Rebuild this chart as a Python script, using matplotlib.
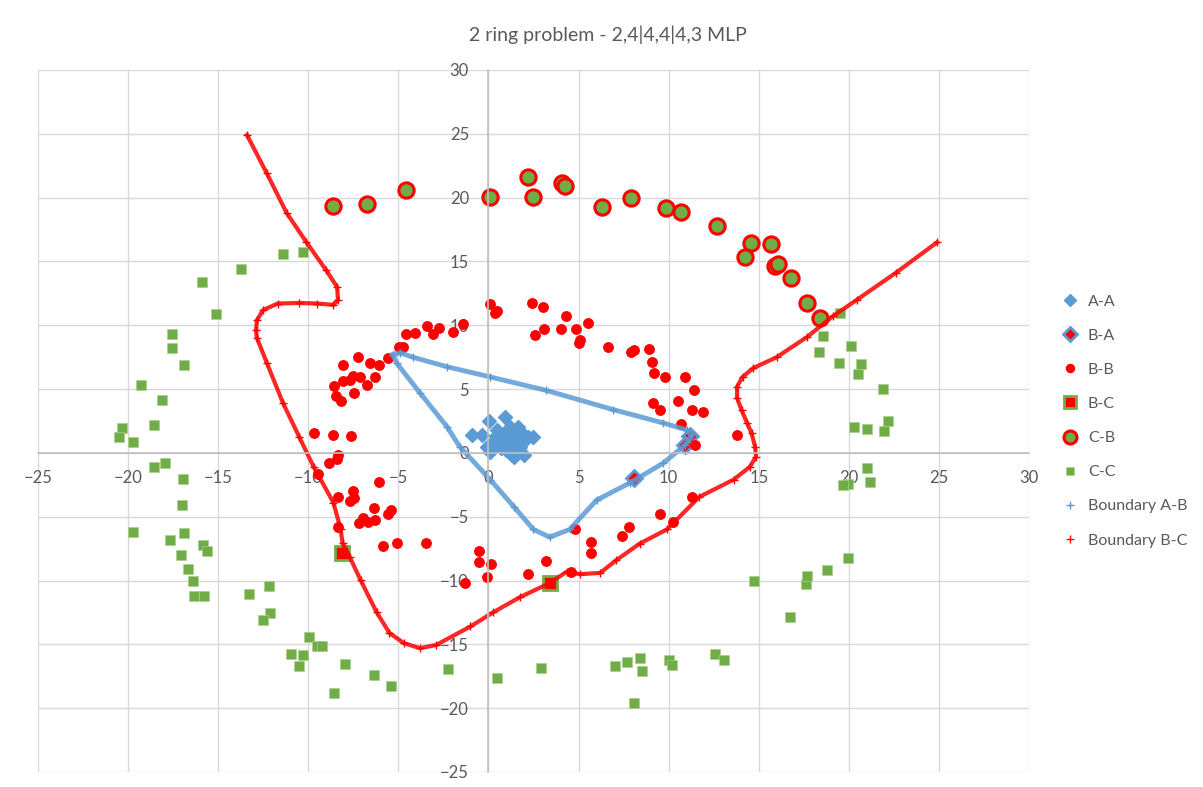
import matplotlib
matplotlib.use("Agg")
import matplotlib.pyplot as plt

# ---- data ----
aa_x = [-0.9, -0.35, 0.03, 0.9, -0.1, 0.1, 1.4, 2.0, 2.2, 1.65, 1.2, 0.5, 0.65, 1.4, 1.75,
        1.0, 0.25, 2.45, 1.85, 0.1, 1.3, 0.8, 1.1, 1.6, 0.4, 2.0, 0.7, 1.2, 1.5, 0.9]
aa_y = [1.4, 1.4, 2.5, 2.8, 0.5, 0.1, -0.3, -0.15, 1.25, 2.05, 2.0, 1.8, 1.0, 0.8, 0.5,
        0.2, 0.8, 1.25, 1.55, 0.6, -0.15, 1.4, 1.2, 1.1, 1.3, 0.9, 0.4, 0.5, 1.6, 0.9]

ba_x = [8.1, 11.2, 10.9]
ba_y = [-1.95, 1.35, 0.65]

bb_x = [0.1, 0.35, 0.5, 2.4, 3.0, 4.3, 2.6, 3.1, 4.0, 4.85, 5.0, 5.1, 5.5, -1.4, -1.95,
        -2.75, -3.1, -3.4, -4.1, -4.6, -4.75, -4.95, -5.6, -7.25, -8.1, -6.6, -6.1, -6.3,
        -6.75, -7.15, -7.5, -7.7, -8.05, -8.55, -8.45, -8.2, -7.45, -9.7, -8.6, -7.65,
        -8.35, -8.4, -8.85, -9.45, -6.1, -8.35, -7.5, -7.45, -7.7, -6.35, -5.4, -5.55,
        -6.95, -7.2, -6.7, -6.3, -8.35, -5.85, -5.1, -3.45, -0.5, -0.5, 0.15, -0.1, -1.3,
        3.2, 2.2, 4.6, 4.8, 5.7, 5.7, 7.4, 7.8, 9.5, 10.25, 11.3, 6.65, 7.9, 8.1, 8.9, 9.1,
        9.2, 9.8, 10.9, 11.4, 9.15, 9.5, 10.5, 11.3, 11.9, 10.7, 11.45, 13.8]
bb_y = [11.7, 11.0, 11.1, 11.75, 11.45, 10.75, 9.25, 9.7, 9.7, 9.7, 8.6, 8.85, 10.2, 10.1, 9.5,
        9.8, 9.3, 9.95, 9.4, 9.3, 8.3, 8.3, 7.45, 7.5, 6.9, 7.05, 6.9, 5.95,
        5.3, 5.95, 6.0, 5.7, 5.6, 5.25, 4.45, 4.1, 4.7, 1.55, 1.4, 1.35,
        -0.15, -0.5, -0.8, -1.65, -2.25, -3.45, -3.0, -3.55, -3.8, -4.3, -4.45, -4.8,
        -5.1, -5.5, -5.4, -5.25, -5.8, -7.3, -7.05, -7.05, -7.7, -8.55, -8.7, -9.7, -10.2,
        -8.45, -9.5, -9.3, -6.0, -7.0, -7.85, -6.5, -5.8, -4.8, -5.4, -3.45, 8.3, 7.9, 8.05, 8.15, 7.1,
        6.25, 5.95, 5.95, 4.9, 3.9, 3.35, 4.1, 3.35, 3.2, 2.3, 0.6, 1.4]

bc_x = [-8.15, 3.4]
bc_y = [-7.85, -10.2]

cb_x = [-8.6, -6.75, -4.6, 0.1, 2.2, 2.5, 4.1, 4.25, 6.3, 7.9, 9.85, 10.7, 12.7, 14.55,
        14.25, 15.7, 15.9, 16.05, 16.8, 17.7, 18.4]
cb_y = [19.35, 19.5, 20.6, 20.05, 21.65, 20.05, 21.15, 20.9, 19.3, 20.0, 19.2, 18.9, 17.8, 16.45,
        15.35, 16.4, 14.65, 14.8, 13.7, 11.75, 10.6]

cc_x = [-11.4, -10.3, -13.75, -15.9, -15.1, -17.55, -17.55, -16.9, -19.3, -18.1, -18.55, -20.35,
        -20.5, -19.75, -18.55, -17.95, -16.95, -17.0, -19.75, -17.7, -16.9, -15.85, -15.6, -17.05,
        -16.7, -16.4, -16.35, -15.8, -13.3, -12.2, -12.1, -12.5, -9.95, -9.5, -9.25, -10.95, -10.3,
        -10.5, -7.95, -6.35, -5.4, -8.55, -2.25, 0.5, 2.9, 7.05, 7.7, 8.4, 8.5, 8.05, 10.0, 10.2,
        12.6, 13.05, 14.75, 16.75, 17.6, 17.7, 18.8, 19.95, 19.95, 19.7, 21.2, 21.0, 21.95, 21.0,
        20.3, 22.2, 21.9, 20.5, 20.7, 19.45, 20.1, 18.35, 18.55, 19.5]
cc_y = [15.6, 15.75, 14.4, 13.4, 10.9, 9.35, 8.2, 6.9, 5.3, 4.15, 2.2, 1.95,
        1.25, 0.85, -1.1, -0.8, -2.05, -4.1, -6.2, -6.8, -6.3, -7.2, -7.7, -8.0,
        -9.1, -10.05, -11.2, -11.2, -11.05, -10.4, -12.55, -13.1, -14.4, -15.1, -15.1, -15.75, -15.8,
        -16.7, -16.55, -17.4, -18.25, -18.8, -16.9, -17.6, -16.85, -16.7, -16.4, -16.1, -17.1, -19.6, -16.2, -16.6,
        -15.75, -16.2, -10.05, -12.85, -10.25, -9.65, -9.2, -8.2, -2.4, -2.55, -2.3, -1.15, 1.75, 1.85,
        2.05, 2.5, 5.0, 6.2, 6.95, 7.05, 8.4, 7.9, 9.15, 11.0]

ab_x = [-5.3, -4.9, -4.2, -2.3, 0.1, 3.2, 6.9, 9.7, 11.0, 11.3, 10.9, 9.7, 7.85, 6.0, 4.5,
        3.4, 2.5, 1.4, 0.1, -1.6, -2.3, -3.8, -5.1, -5.3]
ab_y = [7.7, 7.85, 7.5, 6.75, 5.95, 4.9, 3.4, 2.35, 1.8, 1.4, 0.6, -0.8, -2.35, -3.7, -6.0,
        -6.6, -6.0, -4.2, -2.1, 0.5, 2.05, 4.7, 7.05, 7.7]

bnd_x = [-13.4, -12.3, -11.2, -10.1, -9.0, -8.4, -8.35, -8.6, -9.5, -10.5, -11.7, -12.5, -12.85,
         -12.9, -12.85, -12.3, -11.4, -10.5, -9.7, -8.6, -8.2, -8.1, -7.7, -7.1, -6.2, -5.5, -4.7,
         -3.8, -2.9, -1.0, 0.25, 1.75, 3.4, 4.35, 5.1, 6.2, 7.1, 8.4, 9.9, 11.7, 13.6, 14.5, 14.85,
         14.8, 14.6, 14.35, 14.05, 13.8, 13.8, 14.1, 14.7, 16.0, 17.7, 19.1, 20.45, 22.6, 24.9]
bnd_y = [24.9, 21.9, 18.8, 16.5, 14.3, 13.0, 12.0, 11.6, 11.7, 11.75, 11.7, 11.2, 10.4,
         9.6, 9.0, 7.05, 3.9, 1.25, -1.1, -3.9, -6.0, -7.05, -8.15, -9.95, -12.5, -14.1, -14.9,
         -15.3, -15.05, -13.6, -12.5, -11.3, -10.2, -9.3, -9.5, -9.4, -8.4, -7.1, -6.0, -3.45, -2.1, -1.1, -0.3,
         0.47, 1.55, 2.35, 3.35, 4.3, 5.2, 5.95, 6.65, 7.5, 9.1, 10.7, 12.0, 14.1, 16.5]

ticks = list(range(-25, 31, 5))

BLUE = "#5B9BD5"
RED = "#FF0000"
GREEN = "#70AD47"
GRAY = "#595959"

plt.rcParams['font.family'] = ['Lato', 'DejaVu Sans']

fig = plt.figure(figsize=(12.03, 7.87), dpi=100)
ax = fig.add_axes([38 / 1203, 1 - 772 / 787, (1029 - 38) / 1203, (772 - 70) / 787])

ax.plot(aa_x, aa_y, ls='none', marker='D', ms=7.5, color=BLUE, label='A-A')
ax.plot(ba_x, ba_y, ls='none', marker='D', ms=8, mfc=RED, mec=BLUE, mew=2, label='B-A')
ax.plot(bb_x, bb_y, ls='none', marker='o', ms=6.8, color=RED, label='B-B')
ax.plot(bc_x, bc_y, ls='none', marker='s', ms=10, mfc=RED, mec=GREEN, mew=2, label='B-C')
ax.plot(cb_x, cb_y, ls='none', marker='o', ms=11, mfc=GREEN, mec=RED, mew=2.2, label='C-B')
ax.plot(cc_x, cc_y, ls='none', marker='s', ms=6.5, color=GREEN, mec='#a9d08e', mew=0.5, label='C-C')

# boundaries: dense "+" markers in the original, drawn as a thick line plus crosses
ax.plot(ab_x, ab_y, color=BLUE, lw=3.5, alpha=0.85, solid_joinstyle='round')
ax.plot(ab_x, ab_y, ls='none', marker='+', ms=6, color=BLUE, label='Boundary A-B')
ax.plot(bnd_x, bnd_y, color=RED, lw=3.0, alpha=0.85, solid_joinstyle='round')
ax.plot(bnd_x, bnd_y, ls='none', marker='+', ms=6, color=RED, label='Boundary B-C')

ax.set_xlim(-25, 30)
ax.set_ylim(-25, 30)
ax.set_xticks(ticks)
ax.set_yticks(ticks)
ax.grid(True, color='#D9D9D9', lw=1)
ax.set_axisbelow(True)
for s in ['top', 'right']:
    ax.spines[s].set_visible(False)
for s in ['left', 'bottom']:
    ax.spines[s].set_position(('data', 0))
    ax.spines[s].set_color('#BFBFBF')
    ax.spines[s].set_linewidth(1.2)
ax.tick_params(axis='both', length=0, labelsize=12, labelcolor=GRAY)
ax.tick_params(axis='x', pad=12)
ax.tick_params(axis='y', pad=14)

fig.text(0.505, 1 - 35 / 787, '2 ring problem - 2,4|4,4|4,3 MLP', ha='center', va='center',
         fontsize=14, color=GRAY)

leg = ax.legend(loc='center left', bbox_to_anchor=(1048 / 1203, 1 - 421 / 787),
                bbox_transform=fig.transFigure, frameon=False, fontsize=11.5,
                labelspacing=1.25, handlelength=1.0, handletextpad=0.6, numpoints=1,
                markerscale=0.85)
for t in leg.get_texts():
    t.set_color(GRAY)

fig.savefig('out.png', dpi=100)
